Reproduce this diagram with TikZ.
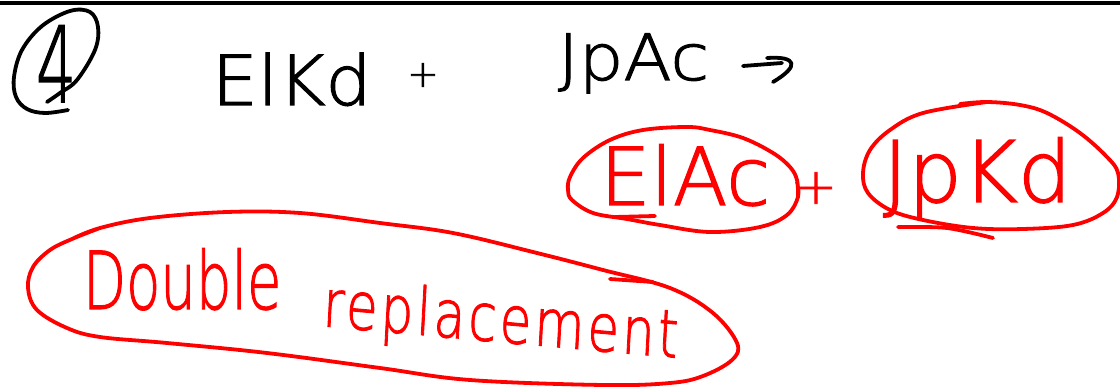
\documentclass[tikz,border=0pt]{standalone}
\usepackage{fontspec}
\newfontfamily\hand[FakeBold=1.6]{DejaVu Sans ExtraLight}
\newfontfamily\handsp[FakeBold=1.6,LetterSpace=6]{DejaVu Sans ExtraLight}
\definecolor{inkred}{RGB}{255,0,0}
\definecolor{inkblack}{RGB}{0,0,0}
\begin{document}
\begin{tikzpicture}[x=1pt,y=-1pt,
  ink/.style={line width=3.8pt, line cap=round, line join=round},
  txt/.style={inner sep=0pt, outer sep=0pt, anchor=base west, font=\hand},
  plus/.style={inner sep=0pt, outer sep=0pt, anchor=center, font=\hand}]
\useasboundingbox (0,0) rectangle (1120,387);
% top rule
\draw[line width=3.6pt, inkblack] (0,3) -- (1120,3);
% circled number
\node[txt, text=inkblack, xscale=0.6] (num) at (36,102) {\fontsize{105}{105}\selectfont 4};
\draw[ink, inkblack] plot[smooth, tension=0.6] coordinates {(68,110) (45,113) (27,109) (16,97) (14,77) (22,50) (42,26) (70,11) (90,12) (98,27) (95,50) (77,80) (60,93) (47,102)};
% black equation
\node[txt, text=inkblack, xscale=1.05] (r1) at (212,105) {\fontsize{69}{69}\selectfont ElKd};
\node[plus, text=inkblack] (p1) at (423,75) {\fontsize{38}{38}\selectfont +};
\node[txt, text=inkblack, xscale=1.1] (r2) at (558,80) {\fontsize{64}{64}\selectfont JpAc};
\coordinate (a0) at (743,66);
\coordinate (a1) at (782,63);
\coordinate (h0) at (767,58);
\coordinate (h1) at (773,82);
\draw[ink, inkblack] (a0) -- (a1);
\draw[ink, inkblack] (h0) .. controls (797,56) and (800,66) .. (h1);
% red products
\node[txt, text=inkred] (pr1) at (600,205) {\fontsize{80}{80}\selectfont ElAc};
\node[plus, text=inkred] (p2) at (816,188) {\fontsize{50}{50}\selectfont +};
\node[txt, text=inkred] (pr2) at (883,202) {\fontsize{85}{85}\selectfont JpKd};
\draw[ink, inkred] plot[smooth, tension=0.6] coordinates {(798,197) (797,180) (790,167) (773,153) (743,138) (710,130) (687,127) (643,130) (610,140) (583,158) (570,177) (568,190) (572,200) (593,213) (627,219) (660,225) (710,232) (760,227) (787,215) (798,197) (797,182)};
\draw[ink, inkred] (615,217) -- (655,216);
\draw[ink, inkred] plot[smooth, tension=0.6] coordinates {(987,102) (923,113) (890,130) (870,150) (863,173) (868,193) (890,210) (923,220) (973,228) (1023,229) (1073,225) (1103,213) (1117,197) (1118,173) (1107,157) (1080,133) (1047,113) (1020,105) (987,102) (960,104)};
\draw[ink, inkred] plot[smooth, tension=0.5] coordinates {(898,227) (947,228) (993,238)};
% label
\node[txt, text=inkred, xscale=0.7] (d1) at (83,309) {\fontsize{80}{80}\selectfont Double};
\node[txt, text=inkred, font=\handsp, xscale=0.78, rotate=-4] (d2) at (322,326) {\fontsize{66}{66}\selectfont replacement};
\draw[ink, inkred] plot[smooth, tension=0.6] coordinates {(72,239) (100,228) (150,218) (227,212) (300,213) (380,223) (453,233) (537,253) (603,270) (670,288) (713,313) (737,343) (732,360) (703,376) (670,383) (603,385) (470,380) (380,368) (267,353) (167,343) (100,337) (67,328) (37,310) (28,288) (33,267) (50,250) (72,239) (100,228)};
\draw[ink, inkred] (610,279) -- (653,282);
\end{tikzpicture}
\end{document}
